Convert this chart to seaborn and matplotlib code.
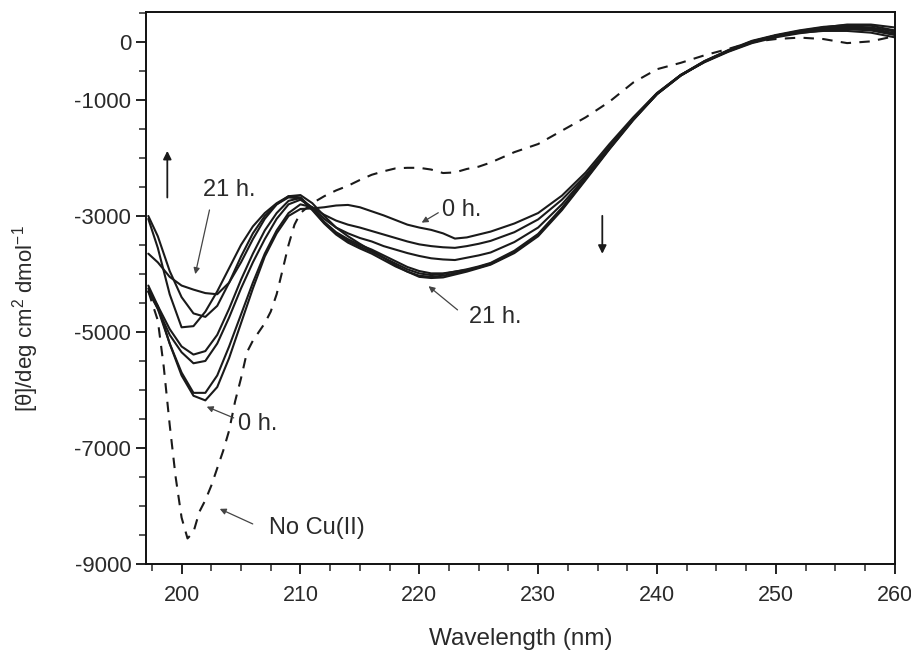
import matplotlib
matplotlib.use("Agg")
import matplotlib.pyplot as plt
import numpy as np
import pandas as pd
import seaborn as sns
from matplotlib.ticker import FixedLocator, MultipleLocator

# wavelength grid shared by the time-series spectra (nm)
wavelength = [197.2, 198, 199, 200, 201, 202, 203, 204, 205, 206, 207, 208, 209, 210,
              211, 212, 213, 214, 215, 216, 217, 218, 219, 220, 221, 222, 223, 224,
              225, 226, 228, 230, 232, 234, 236, 238, 240, 242, 244, 246, 248, 250,
              252, 254, 256, 258, 260]

# molar ellipticity, one list per incubation time (0 h ... 21 h)
theta_t0 = [-4200, -4550, -5200, -5750, -6100, -6180, -5950, -5450, -4850, -4250, -3700,
            -3300, -3000, -2880, -2870, -2850, -2820, -2810, -2850, -2920, -2990, -3070,
            -3150, -3200, -3240, -3300, -3390, -3370, -3320, -3270, -3130, -2950, -2650,
            -2250, -1760, -1300, -880, -570, -350, -170, -20, 80, 150, 200, 220, 200, 120]
theta_t1 = [-4250, -4600, -5200, -5700, -6050, -6050, -5750, -5250, -4700, -4150, -3650,
            -3250, -2950, -2800, -2850, -2980, -3080, -3150, -3200, -3260, -3320, -3380,
            -3440, -3490, -3520, -3540, -3550, -3520, -3480, -3430, -3280, -3060, -2720,
            -2300, -1800, -1320, -890, -570, -340, -160, -10, 100, 180, 250, 300, 300, 250]
theta_t2 = [-4300, -4600, -5050, -5350, -5540, -5500, -5200, -4750, -4250, -3800, -3400,
            -3050, -2800, -2720, -2850, -3050, -3200, -3300, -3380, -3440, -3520, -3580,
            -3640, -3690, -3730, -3750, -3760, -3720, -3680, -3630, -3450, -3200, -2800,
            -2330, -1820, -1330, -900, -580, -340, -160, 0, 110, 190, 250, 270, 250, 180]
theta_t3 = [-4300, -4550, -4950, -5250, -5390, -5330, -5050, -4600, -4100, -3650, -3250,
            -2950, -2740, -2690, -2870, -3100, -3280, -3400, -3500, -3580, -3680, -3780,
            -3880, -3950, -3990, -3990, -3960, -3930, -3890, -3830, -3620, -3330, -2880,
            -2360, -1840, -1340, -900, -580, -340, -150, 10, 110, 180, 230, 250, 230, 150]
theta_t4 = [-3050, -3550, -4350, -4920, -4900, -4650, -4300, -3900, -3500, -3180, -2950,
            -2780, -2660, -2680, -2880, -3120, -3300, -3430, -3530, -3620, -3720, -3820,
            -3920, -3990, -4020, -4000, -3960, -3920, -3870, -3810, -3600, -3310, -2860,
            -2350, -1830, -1330, -890, -570, -330, -140, 20, 120, 200, 260, 290, 280, 200]
theta_t5 = [-3000, -3350, -3950, -4400, -4680, -4740, -4550, -4150, -3700, -3300, -3000,
            -2800, -2680, -2700, -2900, -3130, -3320, -3460, -3560, -3650, -3760, -3870,
            -3960, -4030, -4050, -4030, -3990, -3940, -3880, -3820, -3620, -3330, -2880,
            -2360, -1830, -1330, -890, -570, -330, -150, 10, 110, 180, 220, 230, 210, 130]
theta_t6 = [-3650, -3800, -4050, -4200, -4270, -4330, -4350, -4150, -3800, -3400, -3050,
            -2800, -2660, -2640, -2780, -3000, -3200, -3350, -3480, -3600, -3720, -3850,
            -3960, -4050, -4070, -4060, -4010, -3960, -3900, -3840, -3640, -3350, -2900,
            -2380, -1850, -1350, -900, -580, -340, -150, 0, 100, 160, 190, 190, 160, 80]
series_names = ["0 h", "t1", "t2", "t3", "t4", "t5", "21 h"]

# peptide without copper (dashed)
wavelength_nocu = [197.2, 198, 198.5, 199, 199.5, 200, 200.5, 201, 201.5, 202, 202.5, 203,
                   203.5, 204, 204.5, 205, 205.5, 206, 207, 207.5, 208, 208.5, 209, 209.5,
                   210, 211, 212, 213, 214, 215, 216, 217, 218, 219, 220, 221, 222, 223,
                   224, 225, 226, 228, 230, 232, 234, 236, 238, 240, 242, 244, 246, 248,
                   250, 252, 254, 256, 258, 260]
theta_nocu = [-4300, -4800, -5600, -6600, -7500, -8200, -8560, -8450, -8100, -7900, -7650,
              -7350, -7050, -6700, -6200, -5800, -5350, -5150, -4850, -4650, -4350, -3930,
              -3500, -3150, -2950, -2780, -2660, -2560, -2480, -2380, -2290, -2230, -2180,
              -2170, -2170, -2200, -2260, -2250, -2190, -2150, -2080, -1900, -1760, -1530,
              -1300, -1030, -700, -470, -360, -230, -120, 0, 50, 75, 50, -20, 10, 100]

y_labelled = [0, -1000, -3000, -5000, -7000, -9000]

frames = []
for name, vals in zip(series_names, [theta_t0, theta_t1, theta_t2, theta_t3,
                                     theta_t4, theta_t5, theta_t6]):
    frames.append(pd.DataFrame({"wl": wavelength, "theta": vals, "time": name}))
df = pd.concat(frames, ignore_index=True)
df_nocu = pd.DataFrame({"wl": wavelength_nocu, "theta": theta_nocu})

sns.set_theme(style="ticks")
plt.rcParams["font.family"] = ["Liberation Sans", "DejaVu Sans"]
plt.rcParams["mathtext.fontset"] = "custom"
plt.rcParams["mathtext.rm"] = "Liberation Sans"
plt.rcParams["axes.unicode_minus"] = False

fig = plt.figure(figsize=(9.12, 6.55), dpi=100)
ax = fig.add_axes([0.160, 0.139, 0.821, 0.843])

ink = "#1a1a1a"
sns.lineplot(data=df, x="wl", y="theta", units="time", estimator=None,
             color=ink, linewidth=1.5, ax=ax, legend=False)
sns.lineplot(data=df_nocu, x="wl", y="theta", color=ink, linewidth=1.5,
             linestyle=(0, (5, 4)), ax=ax, legend=False)

ax.set_xlim(197.0, 260)
ax.set_ylim(-9000, 520)
ax.xaxis.set_major_locator(MultipleLocator(10))
ax.xaxis.set_minor_locator(MultipleLocator(2.5))
ax.yaxis.set_major_locator(FixedLocator(y_labelled))
ax.yaxis.set_minor_locator(MultipleLocator(500))
ax.tick_params(axis="both", which="major", direction="out", length=7, width=1.3,
               colors="#111111", labelcolor="#2a2a2a")
ax.tick_params(axis="x", which="major", pad=8, labelsize=15.5)
ax.tick_params(axis="y", which="major", labelsize=16)
ax.tick_params(axis="both", which="minor", direction="out", length=5, width=1.1)
for s in ax.spines.values():
    s.set_linewidth(1.4)
    s.set_color("#111111")

ax.set_xlabel("Wavelength (nm)", fontsize=17.5, color="#2a2a2a", labelpad=16)
ax.set_ylabel(r"[θ]/deg cm$^{2}$ dmol$^{-1}$", fontsize=16, color="#2a2a2a")
# the original label sits a little below the axes centre
ax.yaxis.set_label_coords(-0.14, 0.445)

# direction arrows
arrow_kw = dict(arrowstyle="-|>", color=ink, lw=1.3, mutation_scale=12)
ax.annotate("", xy=(198.8, -1830), xytext=(198.8, -2730), arrowprops=arrow_kw)
ax.annotate("", xy=(235.4, -3700), xytext=(235.4, -2950), arrowprops=arrow_kw)

# curve labels
lab_kw = dict(fontsize=17, color="#2a2a2a", ha="center", va="center")
thin = dict(arrowstyle="-|>", color="#444444", lw=0.9, mutation_scale=9)
ax.text(204.0, -2560, "21 h.", **lab_kw)
ax.annotate("", xy=(201.1, -4050), xytext=(202.4, -2850), arrowprops=thin)
ax.text(206.4, -6580, "0 h.", **lab_kw)
ax.annotate("", xy=(201.9, -6270), xytext=(204.6, -6500), arrowprops=thin)
ax.text(211.4, -8380, "No Cu(II)", **lab_kw)
ax.annotate("", xy=(203.0, -8030), xytext=(206.2, -8330), arrowprops=thin)
ax.text(223.6, -2900, "0 h.", **lab_kw)
ax.annotate("", xy=(220.0, -3140), xytext=(221.8, -2920), arrowprops=thin)
ax.text(226.4, -4740, "21 h.", **lab_kw)
ax.annotate("", xy=(220.6, -4180), xytext=(223.4, -4650), arrowprops=thin)

fig.savefig("out.png", dpi=100)
